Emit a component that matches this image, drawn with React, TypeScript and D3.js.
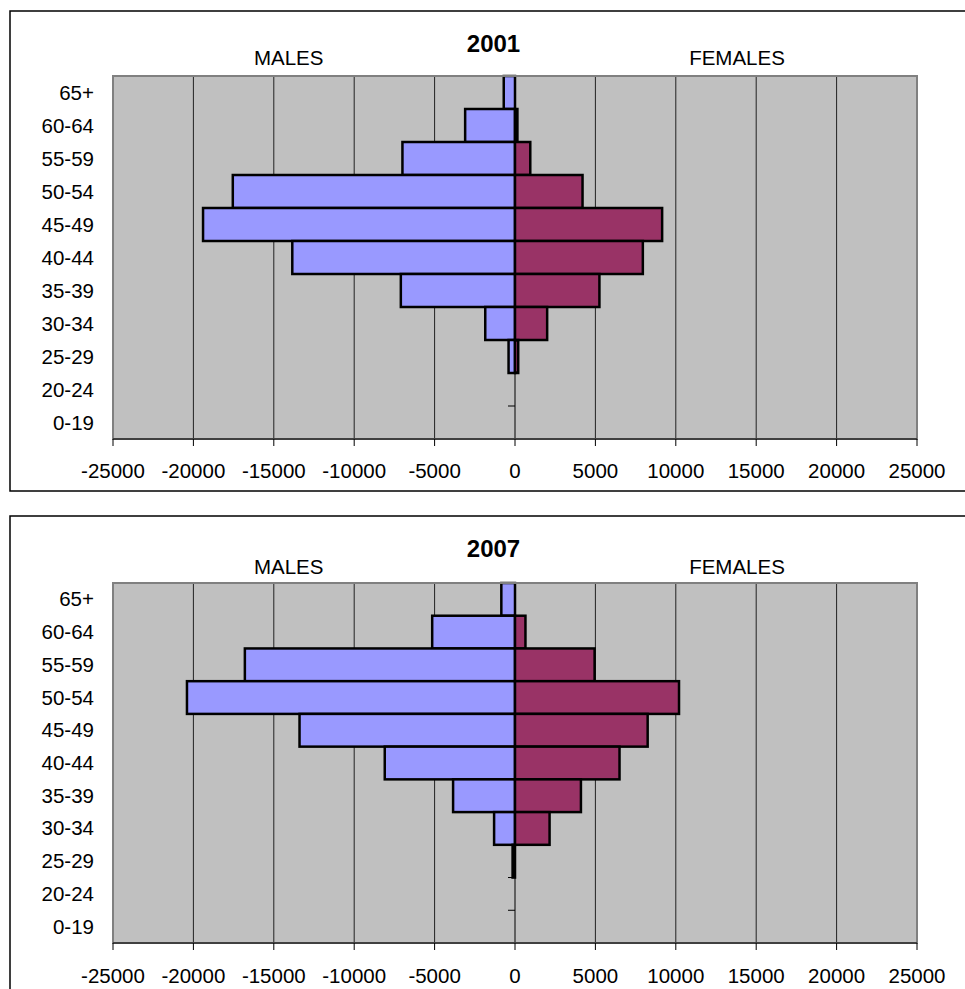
import React from "react";
import * as d3 from "d3";

const ageGroups = ["65+", "60-64", "55-59", "50-54", "45-49", "40-44", "35-39", "30-34", "25-29", "20-24", "0-19"];
const males2001 = [-700, -3100, -7000, -17550, -19400, -13850, -7100, -1850, -400, 0, 0];
const females2001 = [0, 150, 950, 4200, 9150, 7950, 5250, 2000, 200, 0, 0];
const males2007 = [-850, -5150, -16800, -20400, -13400, -8100, -3850, -1300, -150, 0, 0];
const females2007 = [0, 650, 4950, 10200, 8250, 6500, 4100, 2150, 0, 0, 0];
const xTicks = [-25000, -20000, -15000, -10000, -5000, 0, 5000, 10000, 15000, 20000, 25000];

const FONT = "'Liberation Sans', Arial, sans-serif";

type Layout = {
  boxY: number; boxH: number; plotTop: number; plotBottom: number;
  titleY: number; sexY: number; tickY: number;
};

function Pyramid({ title, males, females, L }: { title: string; males: number[]; females: number[]; L: Layout }) {
  const plotLeft = 113, plotRight = 917;
  const x = d3.scaleLinear().domain([-25000, 25000]).range([plotLeft, plotRight]);
  const y = d3.scaleBand<string>().domain(ageGroups).range([L.plotTop, L.plotBottom]).padding(0);
  const x0 = x(0);
  const bars = (vals: number[], fill: string, key: string) =>
    vals.map((v, i) => {
      if (v === 0) return null;
      const a = x(Math.min(0, v)), b = x(Math.max(0, v));
      return (
        <rect key={key + i} x={a} y={y(ageGroups[i])!} width={b - a} height={y.bandwidth()}
          fill={fill} stroke="#000" strokeWidth={2.5} />
      );
    });
  return (
    <g>
      <rect x={10} y={L.boxY} width={967} height={L.boxH} fill="#fff" stroke="#000" strokeWidth={1.5} />
      <rect x={plotLeft} y={L.plotTop} width={plotRight - plotLeft} height={L.plotBottom - L.plotTop} fill="#C0C0C0" />
      {xTicks.filter(t => t !== -25000 && t !== 25000 && t !== 0).map(t => (
        <line key={"g" + t} x1={x(t)} x2={x(t)} y1={L.plotTop} y2={L.plotBottom} stroke="#222" strokeWidth={1} />
      ))}
      {d3.range(ageGroups.length + 1).map(i => {
        const yy = L.plotTop + i * y.bandwidth();
        return <line key={"yt" + i} x1={x0 - 7} x2={x0} y1={yy} y2={yy} stroke="#000" strokeWidth={1} />;
      })}
      <line x1={x0} x2={x0} y1={L.plotTop} y2={L.plotBottom} stroke="#000" strokeWidth={1} />
      {bars(males, "#9999FF", "m")}
      {bars(females, "#993366", "f")}
      <rect x={plotLeft} y={L.plotTop} width={plotRight - plotLeft} height={L.plotBottom - L.plotTop}
        fill="none" stroke="#808080" strokeWidth={2} />
      <line x1={plotLeft} x2={plotRight} y1={L.plotBottom} y2={L.plotBottom} stroke="#404040" strokeWidth={2} />
      {xTicks.map(t => (
        <g key={"xt" + t}>
          <line x1={x(t)} x2={x(t)} y1={L.plotBottom} y2={L.plotBottom + 7} stroke="#000" strokeWidth={1} />
          <text x={x(t)} y={L.tickY} textAnchor="middle" fontFamily={FONT} fontSize={20.5} fill="#000">{t}</text>
        </g>
      ))}
      {ageGroups.map(g => (
        <text key={"c" + g} x={94} y={y(g)! + y.bandwidth() / 2 + 7} textAnchor="end" fontFamily={FONT} fontSize={20.5} fill="#000">{g}</text>
      ))}
      <text x={493.5} y={L.titleY} textAnchor="middle" fontFamily={FONT} fontSize={24} fontWeight="bold" fill="#000">{title}</text>
      <text x={288.7} y={L.sexY} textAnchor="middle" fontFamily={FONT} fontSize={20.5} fill="#000">MALES</text>
      <text x={737} y={L.sexY} textAnchor="middle" fontFamily={FONT} fontSize={20.5} fill="#000">FEMALES</text>
    </g>
  );
}

export default function App() {
  const top: Layout = { boxY: 11, boxH: 480, plotTop: 76, plotBottom: 439, titleY: 52, sexY: 65, tickY: 478 };
  const bottom: Layout = { boxY: 516, boxH: 500, plotTop: 583, plotBottom: 943, titleY: 557, sexY: 574, tickY: 983 };
  return (
    <svg width={965} height={989} style={{ position: "absolute", left: 0, top: 0, display: "block" }}>
      <rect x={0} y={0} width={965} height={989} fill="#fff" />
      <Pyramid title="2001" males={males2001} females={females2001} L={top} />
      <Pyramid title="2007" males={males2007} females={females2007} L={bottom} />
    </svg>
  );
}
